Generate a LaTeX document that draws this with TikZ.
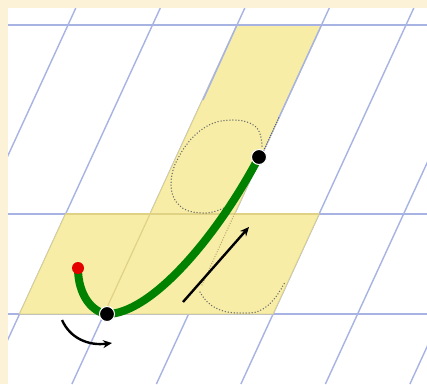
\documentclass[tikz,border=0pt]{standalone}
\usetikzlibrary{arrows.meta}
\definecolor{cream}{HTML}{FCF2D8}
\definecolor{gridblue}{HTML}{A7B3E3}
\definecolor{padyellow}{HTML}{F7EDA7}
\definecolor{tan}{HTML}{E0D285}
\definecolor{strokegreen}{HTML}{008200}
\definecolor{guidegray}{HTML}{6A6A6A}
\definecolor{guideblue}{HTML}{4A5A90}
\tikzset{
  gridline/.style={draw=gridblue, line width=1.4pt},
  hline/.style={draw=gridblue, line width=2pt},
  pad/.style={fill=padyellow, draw=tan, line width=0.8pt},
  innerline/.style={draw=tan, line width=1.2pt},
  guide/.style={draw=guidegray, line width=1.5pt, dash pattern=on 0pt off 3pt, line cap=round},
  guidestem/.style={draw=guideblue, line width=1.5pt, dash pattern=on 0pt off 2.4pt, line cap=round},
  guidetan/.style={draw=tan!80!black, line width=1.4pt, dash pattern=on 0pt off 2.6pt, line cap=round},
  greenstroke/.style={draw=strokegreen, line width=8pt},
  blackdot/.style={circle, fill=black, draw=white, line width=1pt, minimum size=15pt, inner sep=0pt},
  reddot/.style={circle, fill=red!90!black, minimum size=12pt, inner sep=0pt},
  motion/.style={draw=black, line width=2.4pt, -{Stealth[length=9pt,width=8pt]}}
}
\begin{document}
\begin{tikzpicture}[x=1pt,y=-1pt]
\useasboundingbox (0,0) rectangle (427,384);
\fill[cream] (0,0) rectangle (427,384);
\fill[white] (8,8) rectangle (427,384);
\begin{scope}
\clip (8,8) rectangle (427,384);
% slanted grid lines: x(y) = x0 - 0.46 (y-25)
\foreach \xo in {68,152.5,237,321.5,406,490.5,575} {
  \draw[gridline] (\xo+7.8,8) -- (\xo-165.1,384);
}
% horizontal lines
\draw[hline] (8,25) -- (427,25);
\draw[hline] (8,214) -- (427,214);
\draw[hline] (8,314) -- (427,314);
% yellow pads
\path[pad] (237,25) -- (321.5,25) -- (234.5,214) -- (150,214) -- cycle;
\path[pad] (65.5,214) -- (319,214) -- (273,314) -- (19.5,314) -- cycle;
\draw[hline] (8,25) -- (427,25);
% grid lines seen through the pads
\draw[innerline] (65.5,214) -- (319,214);
\draw[innerline] (150,214) -- (104,314);
\draw[gridline] (237,25) -- (203,100);
\draw[gridline] (321.5,25) -- (278.7,118);
\draw[guidestem] (278.7,118) -- (260.8,157);
\draw[guidetan] (234.5,214) -- (201,287);
\end{scope}
% dotted letter guides
\draw[guide] plot[smooth, tension=0.7] coordinates {(262,146) (256,127) (232,120) (204,128) (181,153) (171,183) (180,206) (203,213) (224,208) (236,199)};
\draw[guide] plot[smooth, tension=0.8] coordinates {(200,292) (214,307) (240,313) (266,307) (285,282)};
% green stroke
\coordinate (pR) at (78,268);
\coordinate (pB) at (107,314);
\coordinate (pT) at (259,157);
\draw[greenstroke] (pR) .. controls (78,295) and (92,312) .. (pB)
  .. controls (150,314) and (215,240) .. (pT);
\node[reddot] (red) at (pR) {};
\node[blackdot] (low) at (pB) {};
\node[blackdot] (high) at (pT) {};
% motion arrows
\coordinate (a1s) at (62,320);
\coordinate (a1e) at (112,343);
\draw[motion] (a1s) .. controls (70,338) and (88,346) .. (a1e);
\coordinate (a2s) at (183,302);
\coordinate (a2e) at (249,227);
\draw[motion] (a2s) -- (a2e);
\end{tikzpicture}
\end{document}
